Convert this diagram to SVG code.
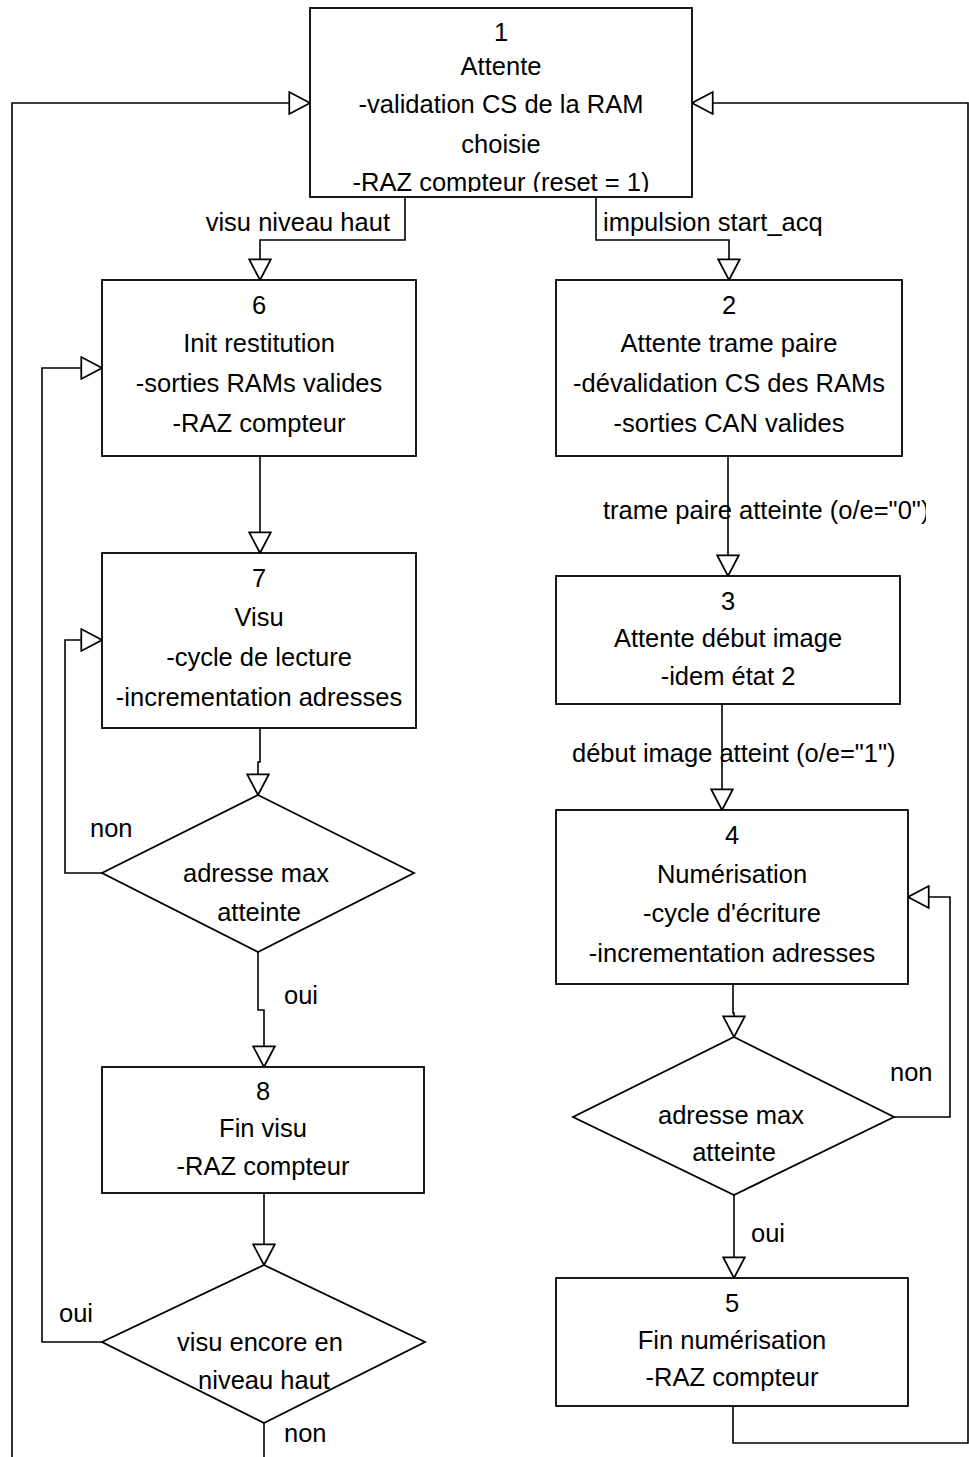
<svg xmlns="http://www.w3.org/2000/svg" width="969" height="1457" viewBox="0 0 969 1457">
<style>
.box{fill:#fff;stroke:#000;stroke-width:1.8}
.c{fill:none;stroke:#000;stroke-width:1.6}
text{font-family:"Liberation Sans",Arial,sans-serif;font-size:25.5px;fill:#000}
.m{text-anchor:middle}
.e{text-anchor:end}
</style>
<defs>
<marker id="ah" markerUnits="userSpaceOnUse" markerWidth="24" markerHeight="24" viewBox="-21 -11 22 22" refX="0" refY="0" orient="auto">
<path d="M0,0 L-19,-10 L-19,10 Z" fill="#fff" stroke="#000" stroke-width="1.6"/>
</marker>
<clipPath id="cl1"><rect x="310" y="8" width="382" height="184"/></clipPath>
<clipPath id="cl2"><rect x="560" y="480" width="366" height="60"/></clipPath>
</defs>
<rect width="969" height="1457" fill="#fff"/>
<g id="connectors">
<path class="c" d="M12,1457 V103 H310" marker-end="url(#ah)"/>
<path class="c" d="M733,1406 V1443 H968 V103 H692" marker-end="url(#ah)"/>
<path class="c" d="M405,197 V240 H260 V280" marker-end="url(#ah)"/>
<path class="c" d="M596,197 V240 H729 V280" marker-end="url(#ah)"/>
<path class="c" d="M260,456 V553" marker-end="url(#ah)"/>
<path class="c" d="M260,728 V762 H258 V795" marker-end="url(#ah)"/>
<path class="c" d="M102,873 H65 V640 H102" marker-end="url(#ah)"/>
<path class="c" d="M258,952 V1010 H264 V1067" marker-end="url(#ah)"/>
<path class="c" d="M264,1193 V1265" marker-end="url(#ah)"/>
<path class="c" d="M102,1342 H42 V368 H102" marker-end="url(#ah)"/>
<path class="c" d="M264,1423 V1457"/>
<path class="c" d="M728,456 V576" marker-end="url(#ah)"/>
<path class="c" d="M722,704 V810" marker-end="url(#ah)"/>
<path class="c" d="M733,984 V1013 H734 V1037" marker-end="url(#ah)"/>
<path class="c" d="M894,1117 H950 V897 H908" marker-end="url(#ah)"/>
<path class="c" d="M734,1195 V1278" marker-end="url(#ah)"/>
<text class="e" x="390" y="231">visu niveau haut</text>
<text x="603" y="231">impulsion start_acq</text>
<text x="603" y="519" clip-path="url(#cl2)">trame paire atteinte (o/e="0")</text>
<text x="572" y="762">début image atteint (o/e="1")</text>
<text x="90" y="837">non</text>
<text x="284" y="1004">oui</text>
<text x="890" y="1081">non</text>
<text x="751" y="1242">oui</text>
<text x="59" y="1322">oui</text>
<text x="284" y="1442">non</text>
</g>
<g id="n1">
<rect class="box" x="310" y="8" width="382" height="189"/>
<g clip-path="url(#cl1)">
<text class="m" x="501" y="41">1</text>
<text class="m" x="501" y="75">Attente</text>
<text class="m" x="501" y="113">-validation CS de la RAM</text>
<text class="m" x="501" y="153">choisie</text>
<text class="m" x="501" y="191">-RAZ compteur (reset = 1)</text>
</g>
</g>
<g id="n6">
<rect class="box" x="102" y="280" width="314" height="176"/>
<text class="m" x="259" y="314">6</text>
<text class="m" x="259" y="352">Init restitution</text>
<text class="m" x="259" y="392">-sorties RAMs valides</text>
<text class="m" x="259" y="432">-RAZ compteur</text>
</g>
<g id="n2">
<rect class="box" x="556" y="280" width="346" height="176"/>
<text class="m" x="729" y="314">2</text>
<text class="m" x="729" y="352">Attente trame paire</text>
<text class="m" x="729" y="392">-dévalidation CS des RAMs</text>
<text class="m" x="729" y="432">-sorties CAN valides</text>
</g>
<g id="n7">
<rect class="box" x="102" y="553" width="314" height="175"/>
<text class="m" x="259" y="587">7</text>
<text class="m" x="259" y="626">Visu</text>
<text class="m" x="259" y="666">-cycle de lecture</text>
<text class="m" x="259" y="706">-incrementation adresses</text>
</g>
<g id="n3">
<rect class="box" x="556" y="576" width="344" height="128"/>
<text class="m" x="728" y="610">3</text>
<text class="m" x="728" y="647">Attente début image</text>
<text class="m" x="728" y="685">-idem état 2</text>
</g>
<g id="n4">
<rect class="box" x="556" y="810" width="352" height="174"/>
<text class="m" x="732" y="844">4</text>
<text class="m" x="732" y="883">Numérisation</text>
<text class="m" x="732" y="922">-cycle d'écriture</text>
<text class="m" x="732" y="962">-incrementation adresses</text>
</g>
<g id="d1">
<polygon class="box" points="258,795 414,873 258,952 102,873"/>
<text class="m" x="256" y="882">adresse max</text>
<text class="m" x="259" y="921">atteinte</text>
</g>
<g id="n8">
<rect class="box" x="102" y="1067" width="322" height="126"/>
<text class="m" x="263" y="1100">8</text>
<text class="m" x="263" y="1137">Fin visu</text>
<text class="m" x="263" y="1175">-RAZ compteur</text>
</g>
<g id="d2">
<polygon class="box" points="734,1037 894,1117 734,1195 573,1117"/>
<text class="m" x="731" y="1124">adresse max</text>
<text class="m" x="734" y="1161">atteinte</text>
</g>
<g id="d3">
<polygon class="box" points="264,1265 425,1342 264,1423 102,1342"/>
<text class="m" x="260" y="1351">visu encore en</text>
<text class="m" x="264" y="1389">niveau haut</text>
</g>
<g id="n5">
<rect class="box" x="556" y="1278" width="352" height="128"/>
<text class="m" x="732" y="1312">5</text>
<text class="m" x="732" y="1349">Fin numérisation</text>
<text class="m" x="732" y="1386">-RAZ compteur</text>
</g>
</svg>
